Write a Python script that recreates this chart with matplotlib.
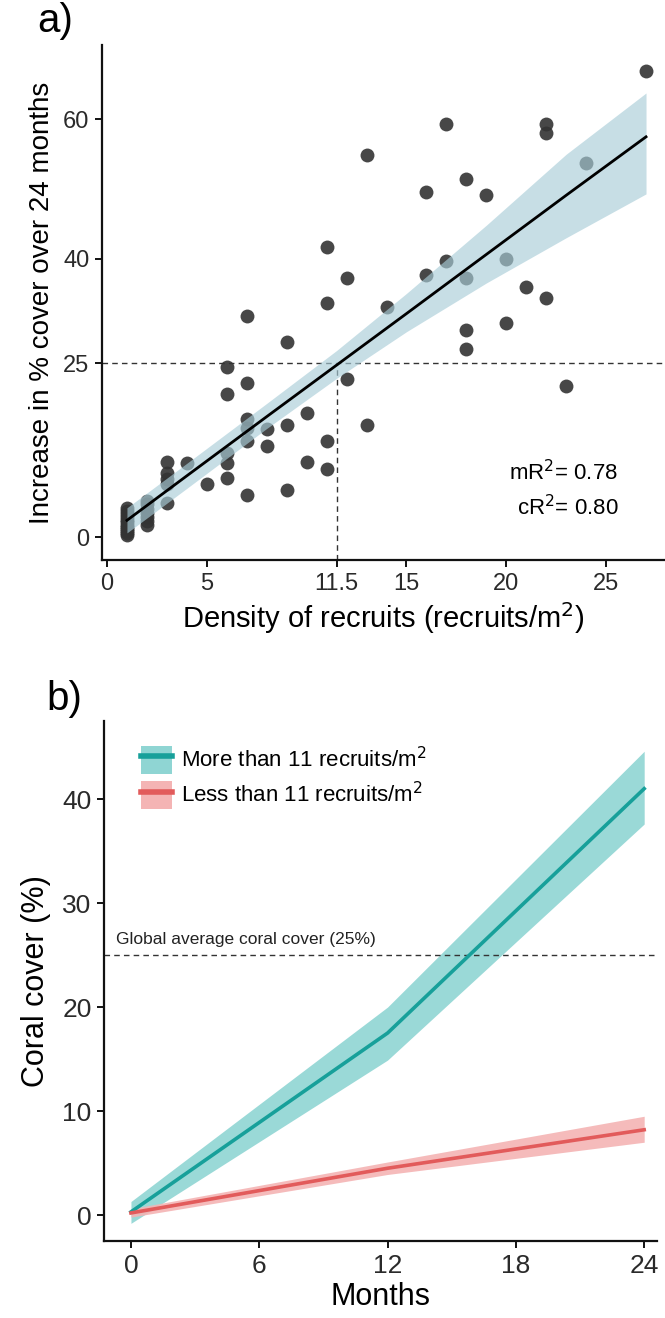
import matplotlib
matplotlib.use('Agg')
import matplotlib.pyplot as plt
from matplotlib.patches import Patch
from matplotlib.lines import Line2D

plt.rcParams['font.family'] = ['Liberation Sans', 'DejaVu Sans']

# a) density of recruits against increase in cover after 24 months
density = [1, 1, 1, 1, 1, 1, 1, 1, 1, 1, 1, 1,
           2, 2, 2, 2, 2, 2, 2,
           3, 3, 3, 3, 3,
           4, 5,
           6, 6, 6, 6, 6,
           7, 7, 7, 7, 7, 7,
           8, 8,
           9, 9, 9,
           10, 10,
           11, 11, 11, 11,
           12, 12,
           13, 13,
           14,
           16, 16,
           17, 17,
           18, 18, 18, 18,
           19,
           20, 20,
           21,
           22, 22, 22,
           23, 24, 27]
cover_increase = [0.3, 0.6, 0.9, 1.2, 1.5, 1.8, 2.1, 2.5, 2.9, 3.3, 3.8, 4.2,
                  1.7, 2.3, 2.9, 3.5, 4.1, 4.7, 5.2,
                  10.8, 9.2, 8.4, 7.6, 4.9,
                  10.6, 7.6,
                  24.5, 20.5, 12.1, 10.6, 8.5,
                  31.8, 22.1, 16.9, 15.6, 13.8, 6.0,
                  15.5, 13.1,
                  28.0, 16.1, 6.7,
                  17.8, 10.8,
                  41.7, 33.6, 13.8, 9.8,
                  37.2, 22.7,
                  54.9, 16.1,
                  33.0,
                  49.6, 37.7,
                  59.4, 39.7,
                  51.5, 37.2, 29.7, 27.0,
                  49.1,
                  39.9, 30.8,
                  35.9,
                  59.4, 58.1, 34.3,
                  21.7, 53.8, 67.0]

# fitted model and its confidence band
fit_x = [1, 4, 8, 11.5, 15, 19, 23, 27]
fit_y = [2.4, 8.8, 17.3, 24.7, 32.1, 40.6, 49.1, 57.5]
fit_lo = [0.6, 7.0, 15.6, 22.8, 29.5, 36.5, 43.0, 49.3]
fit_hi = [4.2, 10.6, 19.2, 26.8, 35.0, 44.8, 55.0, 63.8]

threshold_density = 11.5
threshold_cover = 25
a_xticks = [0, 5, 11.5, 15, 20, 25]
a_yticks = [0, 25, 40, 60]

# b) predicted coral cover through time
months = [0, 12, 24]
high_mean = [0.3, 17.5, 41.0]
high_lo = [-0.8, 14.9, 37.6]
high_hi = [1.3, 20.0, 44.6]
low_mean = [0.2, 4.5, 8.2]
low_lo = [-0.2, 3.9, 7.0]
low_hi = [0.6, 5.1, 9.5]
global_cover = 25

teal = '#17a09a'
teal_band = '#8fd5d3'
red = '#e25b5b'
red_band = '#f4b4b4'
ink = '#111111'

fig = plt.figure(figsize=(6.65, 13.18), dpi=100)


def style_axes(ax, tick_size):
    for side in ['top', 'right']:
        ax.spines[side].set_visible(False)
    for side in ['left', 'bottom']:
        ax.spines[side].set_linewidth(1.6)
        ax.spines[side].set_color(ink)
    ax.tick_params(axis='both', which='major', direction='out', length=5, width=1.4,
                   color=ink, labelsize=tick_size, labelcolor='#2a2a2a', pad=4)


# ---- panel a ----
ax1 = fig.add_axes([0.1534, 0.5751, 0.8466, 0.3908])
ax1.scatter(density, cover_increase, s=100, color='#333333', alpha=0.9, linewidths=0, zorder=2)
ax1.fill_between(fit_x, fit_lo, fit_hi, color='#a9cdd8', alpha=0.65, linewidth=0, zorder=3)
ax1.plot(fit_x, fit_y, color='black', lw=2, zorder=4)

ax1.axhline(threshold_cover, color='#333333', lw=1, ls=(0, (4, 3)), zorder=1)
ax1.plot([threshold_density, threshold_density], [-3.3, threshold_cover],
         color='#333333', lw=1, ls=(0, (4, 3)), zorder=1)

ax1.set_xlim(-0.25, 27.95)
ax1.set_ylim(-3.3, 70.7)
ax1.set_xticks(a_xticks)
ax1.set_xticklabels(['0', '5', '11.5', '15', '20', '25'])
ax1.set_yticks(a_yticks)
style_axes(ax1, 17)
ax1.set_xlabel('Density of recruits (recruits/m$^2$)', fontsize=21, labelpad=4)
ax1.set_ylabel('Increase in % cover over 24 months', fontsize=20, labelpad=6)

ax1.text(25.6, 9.2, 'mR$^2$= 0.78', ha='right', va='center', fontsize=16)
ax1.text(25.6, 4.3, 'cR$^2$= 0.80', ha='right', va='center', fontsize=16)

fig.text(0.083, 0.984, 'a)', fontsize=29, ha='center', va='center')

# ---- panel b ----
ax2 = fig.add_axes([0.1564, 0.0584, 0.8316, 0.3945])
ax2.fill_between(months, high_lo, high_hi, color=teal_band, alpha=0.9, linewidth=0)
ax2.plot(months, high_mean, color=teal, lw=2.6)
ax2.fill_between(months, low_lo, low_hi, color=red_band, alpha=0.9, linewidth=0)
ax2.plot(months, low_mean, color=red, lw=2.6)

ax2.axhline(global_cover, color='#333333', lw=1, ls=(0, (4, 3)), zorder=1)
ax2.text(-0.7, global_cover + 0.8, 'Global average coral cover (25%)',
         ha='left', va='bottom', fontsize=12.5, color='#222222')

ax2.set_xlim(-1.26, 24.6)
ax2.set_ylim(-2.5, 47.5)
ax2.set_xticks([0, 6, 12, 18, 24])
ax2.set_yticks([0, 10, 20, 30, 40])
style_axes(ax2, 19)
ax2.set_xlabel('Months', fontsize=22, labelpad=3)
ax2.set_ylabel('Coral cover (%)', fontsize=22, labelpad=8)

handles = [(Patch(facecolor=teal_band, edgecolor='none'), Line2D([], [], color=teal, lw=4)),
           (Patch(facecolor=red_band, edgecolor='none'), Line2D([], [], color=red, lw=4))]
labels = ['More than 11 recruits/m$^2$', 'Less than 11 recruits/m$^2$']
ax2.legend(handles, labels, loc='upper left', bbox_to_anchor=(0.05, 0.97), frameon=False,
           fontsize=16, handlelength=1.4, handleheight=1.6, handletextpad=0.4,
           labelspacing=0.3, borderaxespad=0)

fig.text(0.096, 0.470, 'b)', fontsize=29, ha='center', va='center')

fig.savefig('out.png', dpi=100)
